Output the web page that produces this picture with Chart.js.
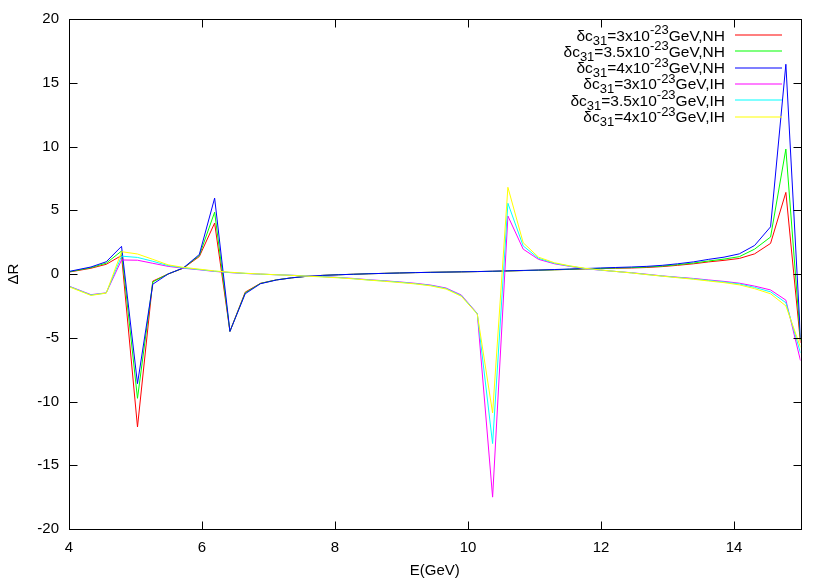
<!DOCTYPE html>
<html>
<head>
<meta charset="utf-8">
<script src="https://cdn.jsdelivr.net/npm/chart.js@4.4.1/dist/chart.umd.min.js"></script>
<style>
  html, body { margin: 0; padding: 0; background: #fff; }
  canvas { display: block; }
</style>
</head>
<body>
<canvas id="chart" width="830" height="581"></canvas>
<script>
const energies = [4.0, 4.33, 4.56, 4.79, 5.03, 5.26, 5.49, 5.72, 5.96, 6.19, 6.42, 6.65,
  6.88, 7.12, 7.35, 7.58, 7.81, 8.05, 8.28, 8.51, 8.74, 8.97, 9.21, 9.44, 9.67, 9.90,
  10.14, 10.37, 10.60, 10.83, 11.06, 11.30, 11.53, 11.76, 11.99, 12.22, 12.46, 12.69,
  12.92, 13.15, 13.39, 13.62, 13.85, 14.08, 14.31, 14.55, 14.78, 15.0];

const nh3 = [0.15, 0.45, 0.76, 1.45, -12.0, -0.56, 0.0, 0.46, 1.37, 4.0, -4.5, -1.42,
  -0.73, -0.46, -0.3, -0.18, -0.11, -0.06, -0.02, 0.02, 0.05, 0.08, 0.11, 0.13, 0.15, 0.17,
  0.19, 0.21, 0.24, 0.27, 0.3, 0.33, 0.36, 0.4, 0.42, 0.45, 0.47, 0.51,
  0.58, 0.68, 0.8, 0.95, 1.07, 1.22, 1.58, 2.4, 6.4, -5.4];
const nh35 = [0.17, 0.5, 0.85, 1.8, -9.75, -0.62, 0.0, 0.47, 1.45, 4.85, -4.5, -1.48,
  -0.74, -0.46, -0.3, -0.18, -0.11, -0.06, -0.02, 0.02, 0.05, 0.08, 0.11, 0.13, 0.15, 0.17,
  0.19, 0.21, 0.24, 0.27, 0.3, 0.33, 0.37, 0.41, 0.44, 0.47, 0.5, 0.55,
  0.62, 0.73, 0.86, 1.02, 1.17, 1.36, 1.95, 2.9, 9.8, -5.2];
const nh4 = [0.2, 0.55, 0.96, 2.17, -8.6, -0.8, 0.0, 0.48, 1.53, 5.95, -4.5, -1.55,
  -0.76, -0.47, -0.3, -0.18, -0.11, -0.06, -0.02, 0.02, 0.05, 0.08, 0.11, 0.13, 0.15, 0.17,
  0.19, 0.22, 0.25, 0.28, 0.31, 0.35, 0.39, 0.43, 0.47, 0.51, 0.55, 0.6,
  0.68, 0.8, 0.95, 1.15, 1.32, 1.58, 2.24, 3.7, 16.45, -5.0];
const ih3 = [-0.95, -1.62, -1.48, 1.1, 1.08, 0.84, 0.6, 0.45, 0.33, 0.2, 0.11, 0.04,
  -0.01, -0.06, -0.1, -0.15, -0.2, -0.27, -0.35, -0.45, -0.53, -0.62, -0.73, -0.87, -1.1, -1.65,
  -3.1, -17.5, 4.55, 1.95, 1.15, 0.8, 0.6, 0.42, 0.3, 0.2, 0.1, -0.02,
  -0.15, -0.25, -0.35, -0.47, -0.58, -0.72, -0.95, -1.25, -2.05, -6.8];
const ih35 = [-0.97, -1.65, -1.49, 1.4, 1.3, 1.0, 0.66, 0.48, 0.35, 0.22, 0.12, 0.05,
  -0.01, -0.06, -0.1, -0.16, -0.21, -0.28, -0.37, -0.47, -0.55, -0.64, -0.76, -0.9, -1.14, -1.7,
  -3.12, -13.3, 5.55, 2.2, 1.23, 0.84, 0.62, 0.43, 0.31, 0.2, 0.09, -0.04,
  -0.16, -0.27, -0.38, -0.51, -0.63, -0.78, -1.05, -1.4, -2.25, -6.2];
const ih4 = [-1.0, -1.68, -1.5, 1.75, 1.57, 1.15, 0.72, 0.52, 0.38, 0.24, 0.14, 0.06,
  0.0, -0.06, -0.11, -0.17, -0.23, -0.3, -0.38, -0.48, -0.57, -0.67, -0.78, -0.93, -1.18, -1.75,
  -3.15, -10.9, 6.8, 2.45, 1.32, 0.88, 0.64, 0.45, 0.32, 0.2, 0.08, -0.05,
  -0.17, -0.29, -0.41, -0.55, -0.68, -0.85, -1.15, -1.55, -2.5, -5.75];

const couplings = ["3", "3.5", "4", "3", "3.5", "4"];
const hierarchies = ["NH", "NH", "NH", "IH", "IH", "IH"];
const seriesValues = [nh3, nh35, nh4, ih3, ih35, ih4];
const lineColors = ["#ff0000", "#00ff00", "#0000ff", "#ff00ff", "#00ffff", "#ffff00"];

const FONT = "'Liberation Sans', Arial, Helvetica, sans-serif";

const datasets = seriesValues.map((vals, i) => ({
  label: "δc31=" + couplings[i] + "x10-23GeV," + hierarchies[i],
  data: energies.map((e, j) => ({ x: e, y: vals[j] })),
  borderColor: lineColors[i],
  borderWidth: 1,
  pointRadius: 0,
  tension: 0,
  fill: false,
  order: seriesValues.length - 1 - i, // later series drawn on top, like gnuplot
}));

// gnuplot-style frame, inward mirrored ticks and key with sub/superscripts
const frameAndKey = {
  id: "frameAndKey",
  afterDraw(chart) {
    const { ctx, chartArea: a, scales } = chart;
    const L = Math.round(a.left) + 0.5, R = Math.round(a.right) + 0.5;
    const T = Math.round(a.top) + 0.5, B = Math.round(a.bottom) + 0.5;
    ctx.save();
    ctx.strokeStyle = "#000";
    ctx.lineWidth = 1;
    ctx.strokeRect(L, T, R - L, B - T);
    ctx.beginPath();
    scales.x.ticks.forEach((t) => {
      const px = Math.round(scales.x.getPixelForValue(t.value)) + 0.5;
      ctx.moveTo(px, B); ctx.lineTo(px, B - 8);
      ctx.moveTo(px, T); ctx.lineTo(px, T + 8);
    });
    scales.y.ticks.forEach((t) => {
      const py = Math.round(scales.y.getPixelForValue(t.value)) + 0.5;
      ctx.moveTo(L, py); ctx.lineTo(L + 8, py);
      ctx.moveTo(R, py); ctx.lineTo(R - 8, py);
    });
    ctx.stroke();
    ctx.restore();

    // key
    const rightX = 725, lineX0 = 735, lineX1 = 782;
    seriesValues.forEach((_, i) => {
      const y = 35 + i * 16.3;
      const parts = [
        ["δc", 15.5, 0], ["31", 13, 4], ["=" + couplings[i] + "x10", 15.5, 0],
        ["-23", 13, -6.5], ["GeV," + hierarchies[i], 15.5, 0],
      ];
      ctx.save();
      ctx.textBaseline = "alphabetic";
      ctx.textAlign = "left";
      ctx.fillStyle = "#000";
      let w = 0;
      parts.forEach(([s, size]) => { ctx.font = size + "px " + FONT; w += ctx.measureText(s).width; });
      let x = rightX - w;
      parts.forEach(([s, size, dy]) => {
        ctx.font = size + "px " + FONT;
        ctx.fillText(s, x, y + 5.5 + dy);
        x += ctx.measureText(s).width;
      });
      // sample line straddles two pixel rows, soft like the gnuplot key
      ctx.strokeStyle = lineColors[i];
      ctx.lineWidth = 1.2;
      ctx.beginPath();
      ctx.moveTo(lineX0, Math.round(y));
      ctx.lineTo(lineX1, Math.round(y));
      ctx.stroke();
      ctx.restore();
    });
  },
};

new Chart(document.getElementById("chart"), {
  type: "line",
  data: { datasets },
  options: {
    responsive: false,
    devicePixelRatio: 1,
    animation: false,
    layout: { padding: { left: 0, right: 29.5, top: 19, bottom: 0 } },
    plugins: { legend: { display: false }, tooltip: { enabled: false } },
    scales: {
      x: {
        type: "linear",
        min: 4,
        max: 15,
        grid: { display: false, drawTicks: false },
        border: { display: false },
        ticks: { stepSize: 2, includeBounds: false, padding: 10, color: "#000", font: { family: FONT, size: 15 } },
        title: { display: true, text: "E(GeV)", color: "#000", font: { family: FONT, size: 15 }, padding: { top: 0, bottom: 1 } },
        afterFit: (s) => { s.height = 52; },
      },
      y: {
        min: -20,
        max: 20,
        grid: { display: false, drawTicks: false },
        border: { display: false },
        ticks: { stepSize: 5, padding: 10, color: "#000", font: { family: FONT, size: 15 } },
        title: { display: true, text: "ΔR", color: "#000", font: { family: FONT, size: 15 }, padding: { top: 5, bottom: 0 } },
        afterFit: (s) => { s.width = 69; },
      },
    },
  },
  plugins: [frameAndKey],
});
</script>
</body>
</html>
